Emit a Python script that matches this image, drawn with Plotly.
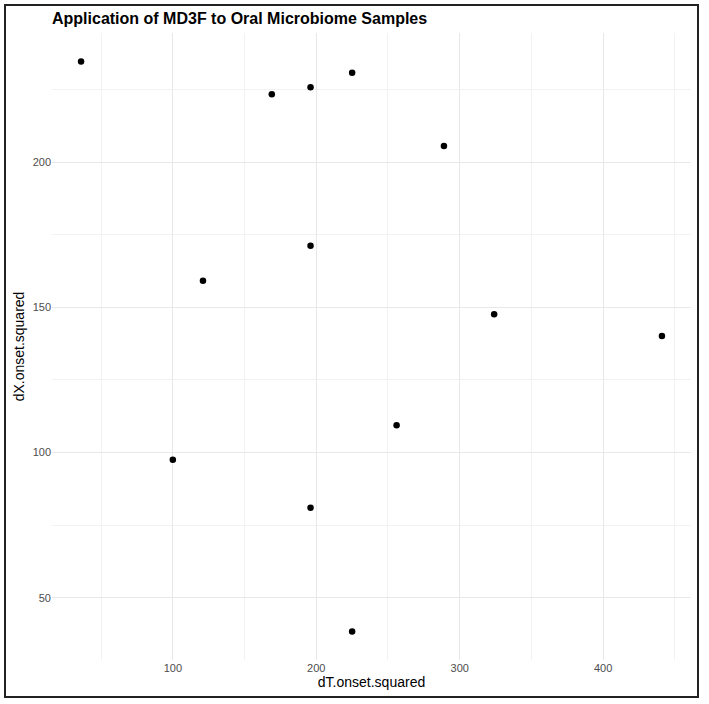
import plotly.graph_objects as go

dT_onset_squared = [36, 169, 196, 225, 289, 196, 121, 324, 441, 256, 100, 196, 225]
dX_onset_squared = [234.6, 223.3, 225.7, 230.7, 205.5, 171.2, 159.1, 147.6, 140.1, 109.4, 97.5, 81.0, 38.4]

x_ticks = [100, 200, 300, 400]
y_ticks = [50, 100, 150, 200]

fig = go.Figure()
fig.add_trace(go.Scatter(
    x=dT_onset_squared, y=dX_onset_squared, mode="markers",
    marker=dict(color="black", size=6.5, line=dict(width=0)),
    hoverinfo="x+y", showlegend=False,
))

font_family = "Liberation Sans, Arial, sans-serif"
fig.update_layout(
    template="none",
    width=709, height=704,
    margin=dict(l=52, r=18, t=33, b=44),
    paper_bgcolor="white", plot_bgcolor="white",
    font=dict(family=font_family, color="black"),
    title=dict(text="<b>Application of MD3F to Oral Microbiome Samples</b>",
               x=0, xanchor="left", xref="paper", y=1 - 18/704, yanchor="middle",
               font=dict(size=16, color="black", family=font_family)),
    xaxis=dict(
        range=[15.75, 461.25], tickvals=x_ticks, showgrid=True,
        gridcolor="#E8E8E8", gridwidth=1.1, zeroline=False, showline=False,
        ticks="", tickfont=dict(size=11, color="#4D4D4D"),
        title=dict(text="dT.onset.squared", font=dict(size=14, color="black"), standoff=2),
        minor=dict(tickvals=[50, 150, 250, 350, 450], showgrid=True, gridcolor="#F2F2F2", gridwidth=0.7),
    ),
    yaxis=dict(
        range=[28.6, 244.4], tickvals=y_ticks, showgrid=True,
        gridcolor="#E8E8E8", gridwidth=1.1, zeroline=False, showline=False,
        ticks="", tickfont=dict(size=11, color="#4D4D4D"),
        title=dict(text="dX.onset.squared", font=dict(size=14, color="black"), standoff=4),
        minor=dict(tickvals=[75, 125, 175, 225], showgrid=True, gridcolor="#F2F2F2", gridwidth=0.7),
    ),
)

fig.add_shape(type="rect", xref="paper", yref="paper",
              x0=-47/639, x1=1 + 7/639, y0=-37/627, y1=1 + 28/627,
              line=dict(color="#222222", width=2), fillcolor="rgba(0,0,0,0)", layer="above")

fig.write_html("out.html")
